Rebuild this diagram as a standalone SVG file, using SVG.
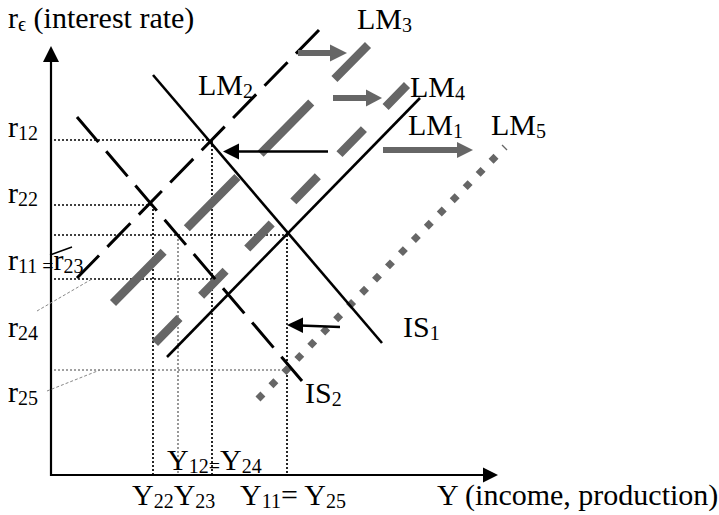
<svg xmlns="http://www.w3.org/2000/svg" width="719" height="515" viewBox="0 0 719 515">
<style>
text { font-family: "Liberation Serif", "Times New Roman", "DejaVu Serif", serif; font-size: 30px; fill: #000; }
.sub { font-size: 20px; }
.axis { stroke: #000; stroke-width: 2.2; fill: none; }
.solid { stroke: #000; stroke-width: 2.6; fill: none; }
.bdash { stroke: #000; stroke-width: 3; stroke-dasharray: 33 12; fill: none; }
.gdashL { stroke: #666; stroke-width: 8.5; stroke-dasharray: 72 33; fill: none; }
.gdashS { stroke: #666; stroke-width: 8.5; stroke-dasharray: 35 31; fill: none; }
.gdot { stroke: #666; stroke-width: 7; stroke-dasharray: 7 11.5; fill: none; }
.dot { stroke: #000; stroke-width: 1.7; stroke-dasharray: 2 2; fill: none; }
.dotl { stroke: #444; stroke-width: 1.1; stroke-dasharray: 2 2; fill: none; }
.lead { stroke: #888; stroke-width: 1; stroke-dasharray: 3 2; fill: none; }
.gshaft { stroke: #666; stroke-width: 6; fill: none; }
.bshaft { stroke: #000; stroke-width: 2.6; fill: none; }
.ghead { fill: #666; }
.bhead { fill: #000; }
</style>

<g id="axes">
  <line class="axis" x1="51" y1="60" x2="51" y2="476"/>
  <polygon class="bhead" points="51,46 43,62 59,62"/>
  <line class="axis" x1="50" y1="475" x2="484" y2="475"/>
  <polygon class="bhead" points="498,475 483,467.5 483,482.5"/>
</g>

<g id="guides">
  <line class="dot" x1="54" y1="140" x2="210" y2="140"/>
  <line class="dot" x1="54" y1="205" x2="152" y2="205"/>
  <line class="dot" x1="54" y1="235" x2="287" y2="235"/>
  <line class="dot" x1="54" y1="279" x2="213" y2="279"/>
  <line class="dotl" x1="54" y1="370" x2="286" y2="370"/>
  <line class="dot" x1="153" y1="205" x2="153" y2="475"/>
  <line class="dotl" x1="178" y1="235" x2="178" y2="475"/>
  <line class="dot" x1="212" y1="141" x2="212" y2="475"/>
  <line class="dot" x1="287" y1="235" x2="287" y2="475"/>
  <line class="lead" x1="37" y1="311" x2="92" y2="279"/>
  <line class="lead" x1="47" y1="391" x2="100" y2="370"/>
  <line stroke="#000" stroke-width="1.6" x1="50" y1="255" x2="72" y2="247"/>
</g>

<g id="curves">
  <line id="LM5-line" class="gdot" x1="258" y1="399" x2="505" y2="147"/>
  <line id="LM3-line" class="gdashL" x1="113" y1="303" x2="368" y2="45"/>
  <line id="LM4-line" class="gdashS" x1="155" y1="343" x2="407" y2="85"/>
  <line id="IS1-line" class="solid" x1="153" y1="75" x2="382" y2="343"/>
  <line id="LM1-line" class="solid" x1="167" y1="357" x2="420" y2="98"/>
  <line id="IS2-line" class="bdash" x1="77" y1="117" x2="302" y2="381"/>
  <line id="LM2-line" class="bdash" x1="319" y1="30" x2="77" y2="278"/>
</g>

<g id="connectors">
  <line class="gshaft" x1="298" y1="53" x2="332" y2="53"/>
  <polygon class="ghead" points="347,53 330,44.5 330,61.5"/>
  <line class="gshaft" x1="333" y1="98" x2="368" y2="98"/>
  <polygon class="ghead" points="382,98 366,89.5 366,106.5"/>
  <line class="gshaft" x1="383" y1="150" x2="459" y2="150"/>
  <polygon class="ghead" points="473,150 457,142 457,158"/>
  <line class="bshaft" x1="328" y1="151.5" x2="236" y2="151.5"/>
  <polygon class="bhead" points="223,151.5 239,143.5 239,159.5"/>
  <line class="bshaft" x1="340" y1="327" x2="300" y2="325.5"/>
  <polygon class="bhead" points="287,325 303,317.5 303,333"/>
</g>

<g id="labels">
  <text x="8" y="28">r<tspan class="sub" dy="3">ϵ</tspan><tspan dy="-3"> (interest rate)</tspan></text>
  <text x="357" y="29">LM<tspan class="sub" dy="3">3</tspan></text>
  <text x="198" y="95">LM<tspan class="sub" dy="3">2</tspan></text>
  <text x="410" y="97">LM<tspan class="sub" dy="3">4</tspan></text>
  <text x="408" y="135">LM<tspan class="sub" dy="3">1</tspan></text>
  <text x="491" y="135">LM<tspan class="sub" dy="3">5</tspan></text>
  <text x="403" y="337">IS<tspan class="sub" dy="3">1</tspan></text>
  <text x="305" y="403">IS<tspan class="sub" dy="3">2</tspan></text>
  <text x="8" y="137">r<tspan class="sub" dy="3">12</tspan></text>
  <text x="8" y="203">r<tspan class="sub" dy="3">22</tspan></text>
  <text x="8" y="270">r<tspan class="sub" dy="3">11 =</tspan><tspan dy="-3">r</tspan><tspan class="sub" dy="3">23</tspan></text>
  <text x="8" y="337">r<tspan class="sub" dy="3">24</tspan></text>
  <text x="8" y="402">r<tspan class="sub" dy="3">25</tspan></text>
  <text x="167" y="470">Y<tspan class="sub" dy="3">12=</tspan><tspan dy="-3">Y</tspan><tspan class="sub" dy="3">24</tspan></text>
  <text x="132" y="505">Y<tspan class="sub" dy="3">22</tspan><tspan dy="-3">Y</tspan><tspan class="sub" dy="3">23</tspan></text>
  <text x="240" y="505">Y<tspan class="sub" dy="3">11</tspan><tspan dy="-3">= Y</tspan><tspan class="sub" dy="3">25</tspan></text>
  <text x="437" y="505">Y (income, production)</text>
</g>
</svg>
